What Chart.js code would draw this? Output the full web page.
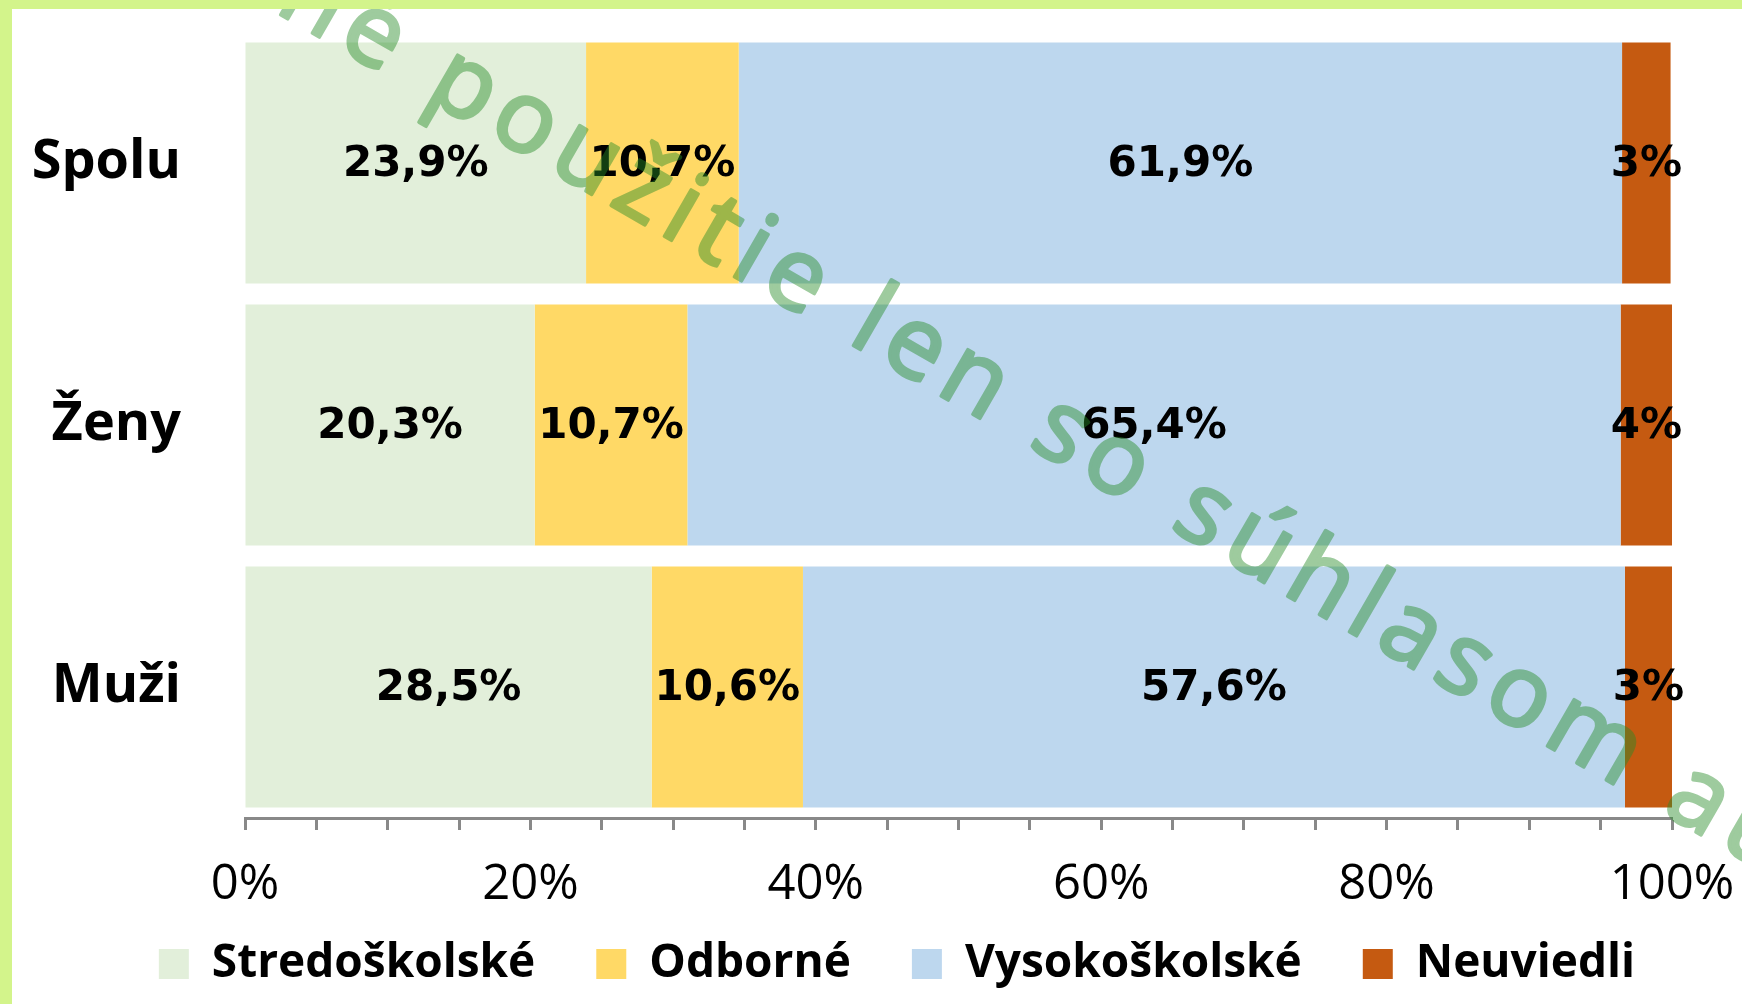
<!DOCTYPE html>
<html>
<head>
<meta charset="utf-8">
<script src="https://cdn.jsdelivr.net/npm/chart.js@4.4.0/dist/chart.umd.min.js"></script>
<style>
  html, body { margin: 0; padding: 0; width: 1742px; height: 1004px; overflow: hidden; background: #d3f48b; }
  #wrap { position: absolute; left: 12px; top: 9px; width: 1730px; height: 995px; background: #fff; }
</style>
</head>
<body>
<div id="wrap"><canvas id="graf"></canvas></div>
<script>
// data
const skupiny = ['Spolu', 'Ženy', 'Muži'];
const stredoskolske = [23.9, 20.3, 28.5];
const odborne = [10.7, 10.7, 10.6];
const vysokoskolske = [61.9, 65.4, 57.6];
const neuviedli = [3.4, 3.6, 3.3];
const nazvy = ['Stredoškolské', 'Odborné', 'Vysokoškolské', 'Neuviedli'];
const farby = ['#e2efda', '#ffd966', '#bdd7ee', '#c55a11'];
const desatinne = [1, 1, 1, 0];
const popisyOsi = [0, 20, 40, 60, 80, 100];
const vodoznakText = 'Interné použitie len so súhlasom autora';

// popisky v stĺpcoch
const stitky = {
    id: 'stitky',
    afterDatasetsDraw(chart) {
        const ctx = chart.ctx;
        ctx.save();
        ctx.font = 'bold 42px "DejaVu Sans"';
        ctx.fillStyle = '#000';
        ctx.textAlign = 'center';
        ctx.textBaseline = 'middle';
        chart.data.datasets.forEach((ds, i) => {
            chart.getDatasetMeta(i).data.forEach((bar, j) => {
                const t = ds.data[j].toFixed(desatinne[i]).replace('.', ',') + '%';
                ctx.fillText(t, (bar.x + bar.base) / 2, bar.y + 2);
            });
        });
        ctx.restore();
    }
};

// vodoznak (polopriehľadný, cez celý graf)
const vodoznak = {
    id: 'vodoznak',
    afterDraw(chart) {
        const ctx = chart.ctx;
        const off = document.createElement('canvas');
        off.width = chart.width;
        off.height = chart.height;
        const o = off.getContext('2d');
        o.font = '100px "Open Sans"';
        o.letterSpacing = '10px';
        o.fillStyle = 'rgb(40, 140, 40)';
        o.strokeStyle = 'rgb(40, 140, 40)';
        o.lineWidth = 3.5;
        o.lineJoin = 'round';
        o.translate(517, 118);
        o.rotate(30 * Math.PI / 180);
        const pred = o.measureText('Interné p').width + o.measureText('o').width / 2;
        o.fillText(vodoznakText, -pred, 27);
        o.strokeText(vodoznakText, -pred, 27);
        ctx.save();
        ctx.globalAlpha = 0.45;
        ctx.drawImage(off, 0, 0);
        ctx.restore();
    }
};

// legenda: pevná výška a posun ako v predlohe
const legendaPoloha = {
    id: 'legendaPoloha',
    beforeLayout(chart) {
        const lg = chart.legend;
        if (lg && !lg._upravena) {
            const fit = lg.fit.bind(lg);
            lg.fit = function () { fit(); this.height = 86; };
            lg._upravena = true;
        }
    },
    afterLayout(chart) {
        const lg = chart.legend;
        lg.top = 871;
        lg.bottom = chart.height;
        lg.height = lg.bottom - lg.top;
        lg.left += 55;
        lg.right += 55;
    }
};

const sady = [stredoskolske, odborne, vysokoskolske, neuviedli].map((d, i) => ({
    label: nazvy[i],
    data: d,
    backgroundColor: farby[i],
    borderWidth: 0,
    barPercentage: 0.92,
    categoryPercentage: 1.0
}));

new Chart(document.getElementById('graf'), {
    type: 'bar',
    data: { labels: skupiny, datasets: sady },
    plugins: [stitky, vodoznak, legendaPoloha],
    options: {
        indexAxis: 'y',
        responsive: true,
        maintainAspectRatio: false,
        animation: false,
        layout: { padding: { top: 23, right: 70, bottom: 0, left: 0 } },
        scales: {
            x: {
                stacked: true,
                min: 0,
                max: 100,
                afterBuildTicks: (s) => {
                    s.ticks = [];
                    for (let v = 0; v <= 100; v += 5) s.ticks.push({ value: v });
                },
                afterFit: (s) => { s.height = 100; s.paddingLeft = 0; s.paddingRight = 0; },
                grid: { drawOnChartArea: false, drawTicks: true, tickLength: 12, tickWidth: 3, tickColor: '#898989' },
                border: { display: true, color: '#898989', width: 3 },
                ticks: {
                    autoSkip: false,
                    maxRotation: 0,
                    padding: 26,
                    color: '#000',
                    font: { family: '"Open Sans"', size: 49 },
                    callback: (v) => popisyOsi.includes(v) ? v + '%' : ''
                }
            },
            y: {
                stacked: true,
                afterFit: (s) => { s.width = 233; s.paddingTop = 0; s.paddingBottom = 0; },
                grid: { display: false },
                border: { display: false },
                ticks: {
                    padding: 56,
                    color: '#000',
                    font: { family: '"Open Sans"', size: 54, weight: 'bold' }
                }
            }
        },
        plugins: {
            legend: {
                position: 'bottom',
                labels: {
                    boxWidth: 30,
                    boxHeight: 30,
                    padding: 61,
                    color: '#000',
                    font: { family: '"Open Sans"', size: 46, weight: 'bold' }
                }
            },
            tooltip: { enabled: false }
        }
    }
});
</script>
</body>
</html>
